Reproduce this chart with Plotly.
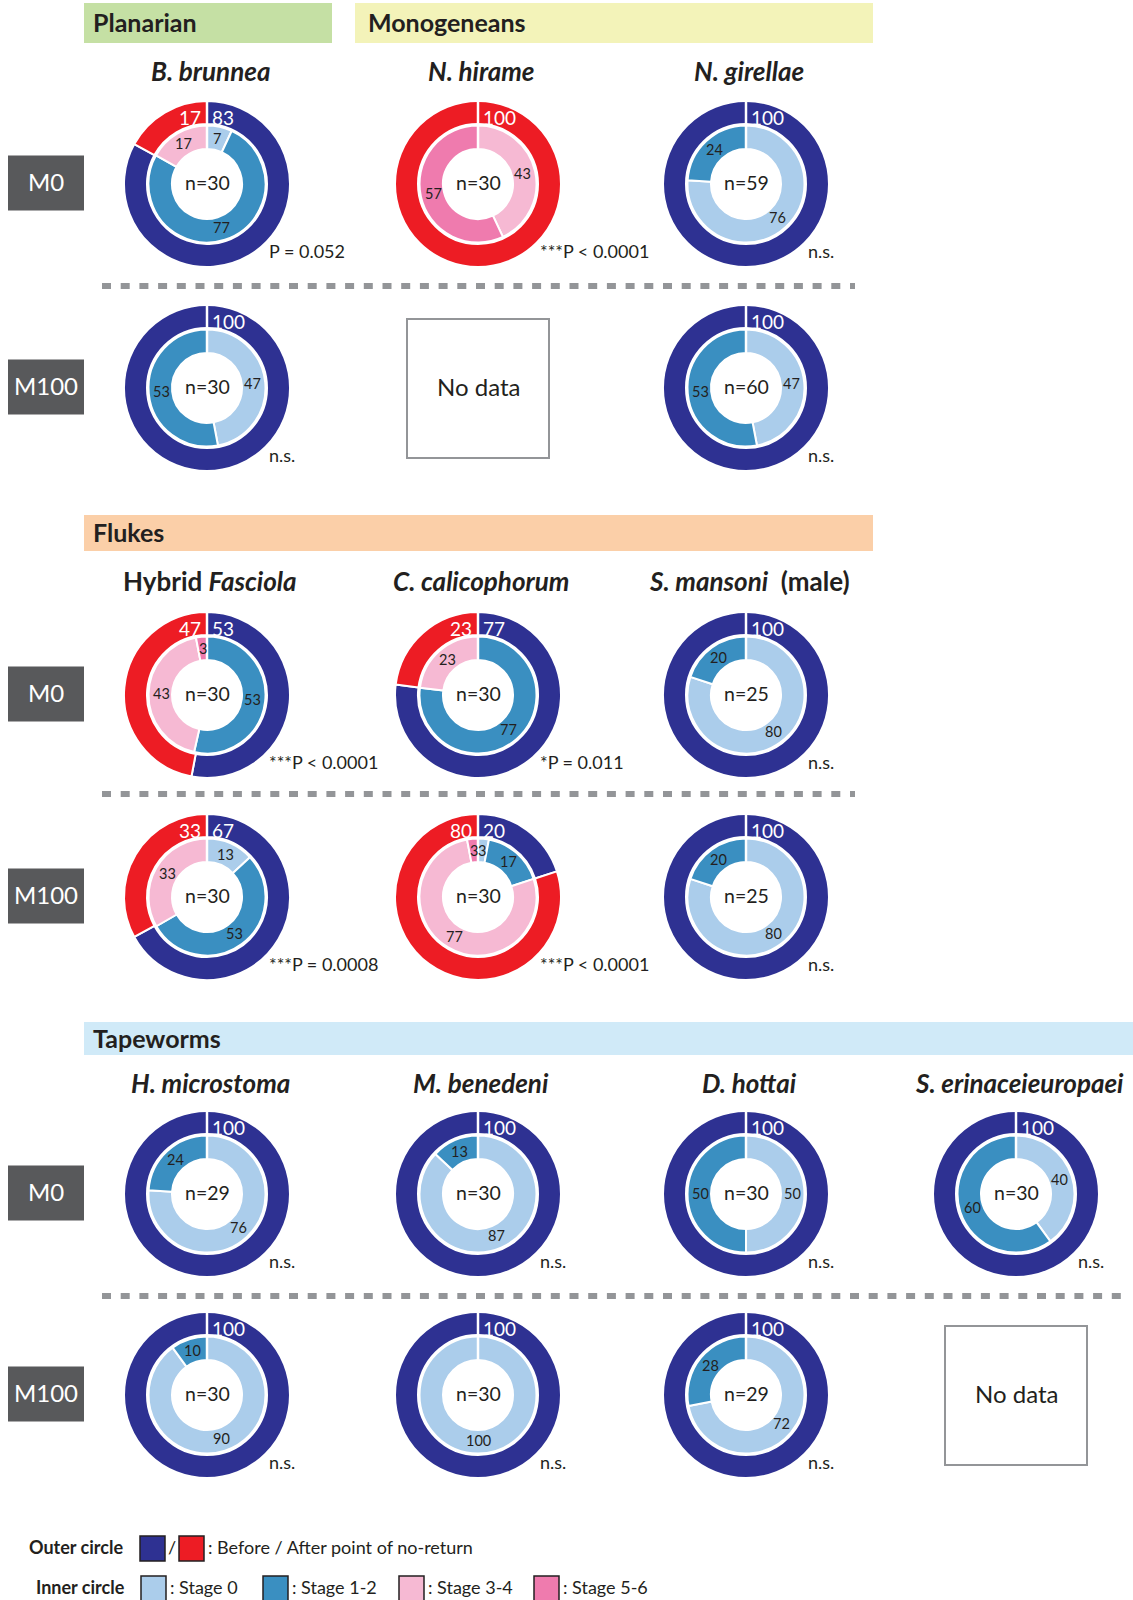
import math
import plotly.graph_objects as go

W, H = 1133, 1600
FONT = "Lato"
INK = "#231f20"

# ---- colours ----
BEFORE_COLOR = "#2e3192"
AFTER_COLOR = "#ed1c24"
STAGE_COLORS = ["#abcdeb", "#3a8fc1", "#f6b9d3", "#ef7bae"]
STAGE_NAMES = ["Stage 0", "Stage 1-2", "Stage 3-4", "Stage 5-6"]

# ---- panel data (row-major; None = no data) ----
panel_rows = [0, 0, 0, 1, 1, 1, 2, 2, 2, 3, 3, 3, 4, 4, 4, 4, 5, 5, 5, 5]
panel_cols = [0, 1, 2, 0, 1, 2, 0, 1, 2, 0, 1, 2, 0, 1, 2, 3, 0, 1, 2, 3]
outer_before = [83, 0, 100, 100, None, 100, 53, 77, 100, 67, 20, 100,
                100, 100, 100, 100, 100, 100, 100, None]
outer_after = [17, 100, 0, 0, None, 0, 47, 23, 0, 33, 80, 0,
               0, 0, 0, 0, 0, 0, 0, None]
stage0 = [7, 0, 76, 47, None, 47, 0, 0, 80, 13, 3, 80, 76, 87, 50, 40, 90, 100, 72, None]
stage12 = [77, 0, 24, 53, None, 53, 53, 77, 20, 53, 17, 20, 24, 13, 50, 60, 10, 0, 28, None]
stage34 = [17, 43, 0, 0, None, 0, 43, 23, 0, 33, 77, 0, 0, 0, 0, 0, 0, 0, 0, None]
stage56 = [0, 57, 0, 0, None, 0, 3, 0, 0, 0, 3, 0, 0, 0, 0, 0, 0, 0, 0, None]
sample_n = [30, 30, 59, 30, None, 60, 30, 30, 25, 30, 30, 25, 29, 30, 30, 30, 30, 30, 29, None]
p_labels = ["P = 0.052", "***P < 0.0001", "n.s.", "n.s.", None, "n.s.",
            "***P < 0.0001", "*P = 0.011", "n.s.", "***P = 0.0008", "***P < 0.0001", "n.s.",
            "n.s.", "n.s.", "n.s.", "n.s.", "n.s.", "n.s.", "n.s.", None]

# ---- titles ----
species_row0 = ["<b><i>B. brunnea</i></b>", "<b><i>N. hirame</i></b>", "<b><i>N. girellae</i></b>"]
species_row1 = ["<b>Hybrid <i>Fasciola</i></b>", "<b><i>C. calicophorum</i></b>",
                "<b><i>S. mansoni</i>  (male)</b>"]
species_row2 = ["<b><i>H. microstoma</i></b>", "<b><i>M. benedeni</i></b>",
                "<b><i>D. hottai</i></b>", "<b><i>S. erinaceieuropaei</i></b>"]
group_names = ["Planarian", "Monogeneans", "Flukes", "Tapeworms"]
group_colors = ["#c5e0a4", "#f3f3b9", "#fbcfa8", "#d0eaf8"]
row_labels = ["M0", "M100", "M0", "M100", "M0", "M100"]

# ---- layout geometry (pixels) ----
COL_X = [207, 478, 746, 1016]
ROW_Y = [184, 388, 695, 897, 1194, 1395]
TITLE_Y = [71.5, 581, 1083]
R_OUT, HOLE_OUT = 83, 60
R_IN, HOLE_IN = 58.5, 35
LABEL_R = 46


def fx(x):
    return x / W


def fy(y):
    return 1 - y / H


def domain(cx, cy, r):
    return dict(x=[fx(cx - r), fx(cx + r)], y=[fy(cy + r), fy(cy - r)])


fig = go.Figure()
shapes = []
annotations = []


def text(x, y, s, size, color=INK, xanchor="center", yanchor="middle"):
    annotations.append(dict(x=fx(x), y=fy(y), xref="paper", yref="paper", text=s,
                            showarrow=False, xanchor=xanchor, yanchor=yanchor,
                            font=dict(family=FONT, size=size, color=color)))


def rect(x0, y0, x1, y1, fill, line_color=None, line_width=0, layer="below"):
    shapes.append(dict(type="rect", xref="paper", yref="paper",
                       x0=fx(x0), x1=fx(x1), y0=fy(y1), y1=fy(y0),
                       fillcolor=fill, layer=layer,
                       line=dict(color=line_color or fill, width=line_width)))


# group header bars
header_boxes = [(84, 3, 332, 43, 91), (355, 3, 873, 43, 366),
                (84, 515, 873, 551, 91), (84, 1022, 1133, 1055, 91)]
for (x0, y0, x1, y1, tx), name, col in zip(header_boxes, group_names, group_colors):
    rect(x0, y0, x1, y1, col)
    text(tx, (y0 + y1) / 2 - 1, "<b>" + name + "</b>", 25, xanchor="left")

# species titles
for ti, names in enumerate([species_row0, species_row1, species_row2]):
    for ci, nm in enumerate(names):
        text(COL_X[ci] + 3, TITLE_Y[ti], nm, 26)

# row labels
for ri, lab in enumerate(row_labels):
    rect(8, ROW_Y[ri] - 28.5, 84, ROW_Y[ri] + 26.5, "#58595b")
    text(46, ROW_Y[ri] - 2.5, lab, 24, color="white")

# dotted separators
for y, x1 in [(286, 855), (794, 855), (1296, 1123)]:
    shapes.append(dict(type="line", xref="paper", yref="paper",
                       x0=fx(102), x1=fx(x1), y0=fy(y), y1=fy(y),
                       line=dict(color="#939598", width=6, dash="9px,9.7px")))


def slice_positions(values):
    """Mid-angle (deg, clockwise from 12 o'clock) of each slice."""
    tot = sum(values)
    acc = 0
    mids = []
    for v in values:
        mids.append((acc + v / 2) / tot * 360)
        acc += v
    return mids


for i in range(len(panel_rows)):
    cx, cy = COL_X[panel_cols[i]], ROW_Y[panel_rows[i]]
    if sample_n[i] is None:
        rect(cx - 71, cy - 69, cx + 71, cy + 70, "rgba(0,0,0,0)", "#939598", 2, layer="above")
        text(cx, cy - 1.5, "No data", 24)
        continue

    # outer ring: before / after point of no-return
    ov = [(outer_before[i], BEFORE_COLOR), (outer_after[i], AFTER_COLOR)]
    ov = [(v, c) for v, c in ov if v > 0]
    fig.add_trace(go.Pie(values=[v for v, _ in ov], marker=dict(colors=[c for _, c in ov],
                         line=dict(color="white", width=2)),
                         sort=False, direction="clockwise", rotation=0,
                         hole=HOLE_OUT / R_OUT, domain=domain(cx, cy, R_OUT),
                         textinfo="none", hoverinfo="skip", showlegend=False))

    # inner ring: developmental stages
    stages = [stage0[i], stage12[i], stage34[i], stage56[i]]
    iv = [(v, c) for v, c in zip(stages, STAGE_COLORS) if v > 0]
    fig.add_trace(go.Pie(values=[v for v, _ in iv], marker=dict(colors=[c for _, c in iv],
                         line=dict(color="white", width=2)),
                         sort=False, direction="clockwise", rotation=0,
                         hole=HOLE_IN / R_IN, domain=domain(cx, cy, R_IN),
                         textinfo="none", hoverinfo="skip", showlegend=False))

    # ring start boundary at 12 o'clock
    shapes.append(dict(type="line", xref="paper", yref="paper",
                       x0=fx(cx), x1=fx(cx), y0=fy(cy - HOLE_IN + 1), y1=fy(cy - R_OUT - 1),
                       line=dict(color="white", width=2.5)))

    # inner stage percentages
    for (v, _), ang in zip(iv, slice_positions([v for v, _ in iv])):
        a = math.radians(ang)
        text(cx + LABEL_R * math.sin(a), cy - LABEL_R * math.cos(a) - 0.5, str(v), 14.5)

    # outer percentages beside the start line
    if outer_before[i] > 0:
        text(cx + 3, cy - 67, str(outer_before[i]), 19, color="white", xanchor="left")
    if outer_after[i] > 0:
        x_off = 3 if outer_before[i] == 0 else -4
        text(cx + x_off, cy - 67, str(outer_after[i]), 19, color="white",
             xanchor="left" if outer_before[i] == 0 else "right")

    text(cx, cy - 1.5, "n=%d" % sample_n[i], 19.5)
    text(cx + 60, cy + 67, p_labels[i], 18, xanchor="left")

# ---- legend ----
text(125, 1547, "<b>Outer circle</b>", 18, xanchor="right")
rect(140, 1536, 165, 1561, BEFORE_COLOR, INK, 1.5, layer="above")
text(172, 1547, "/", 18)
rect(179, 1536, 204, 1561, AFTER_COLOR, INK, 1.5, layer="above")
text(206, 1547, ": Before / After point of no-return", 18, xanchor="left")

text(127, 1587, "<b>Inner circle</b>", 18, xanchor="right")
for x0, col, name in zip([141, 263, 399, 534], STAGE_COLORS, STAGE_NAMES):
    rect(x0, 1576, x0 + 25, 1601, col, INK, 1.5, layer="above")
    text(x0 + 27, 1587, ": " + name, 18, xanchor="left")

fig.update_layout(width=W, height=H, margin=dict(l=0, r=0, t=0, b=0),
                  paper_bgcolor="white", plot_bgcolor="white",
                  shapes=shapes, annotations=annotations,
                  font=dict(family=FONT, color=INK))
fig.write_html("out.html")
